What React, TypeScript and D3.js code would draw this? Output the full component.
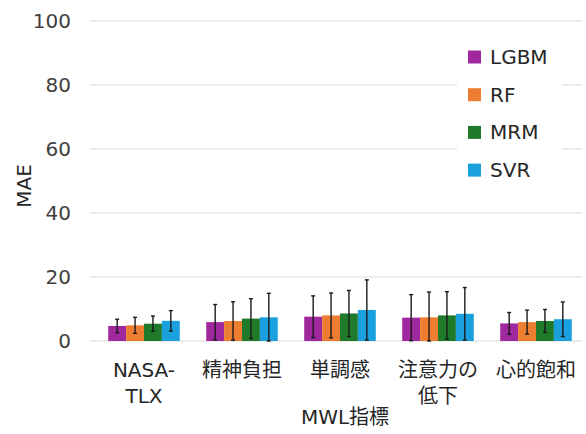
import React from 'react';
import * as d3 from 'd3';

// MWL indicator categories (x axis)
const categories = [['NASA-', 'TLX'], ['精神負担'], ['単調感'], ['注意力の', '低下'], ['心的飽和']];
const models = ['LGBM', 'RF', 'MRM', 'SVR'];
const colors = ['#A0289F', '#ED7D31', '#1F7A2C', '#1AA0DC'];

// MAE per model, one value per category
const lgbm = [4.7, 5.9, 7.6, 7.3, 5.5];
const rf = [4.9, 6.25, 8.0, 7.4, 5.9];
const mrm = [5.4, 7.0, 8.6, 8.0, 6.25];
const svr = [6.3, 7.4, 9.7, 8.5, 6.8];

// standard deviations (error bars)
const lgbmSd = [2.1, 5.5, 6.5, 7.2, 3.4];
const rfSd = [2.5, 6.0, 7.0, 7.9, 3.75];
const mrmSd = [2.4, 6.2, 7.2, 7.4, 3.6];
const svrSd = [3.2, 7.5, 9.4, 8.2, 5.4];

const yTicks = [0, 20, 40, 60, 80, 100];

const values = [lgbm, rf, mrm, svr];
const sds = [lgbmSd, rfSd, mrmSd, svrSd];

const FONT = '"DejaVu Sans", "Noto Sans CJK JP", sans-serif';

export default function App() {
	const width = 586;
	const height = 434;
	const left = 95;
	const right = 585;
	const top = 21;
	const bottom = 341;

	const x = d3.scaleBand<number>()
		.domain(d3.range(categories.length))
		.range([left, right])
		.paddingInner(0.27)
		.paddingOuter(0.135);
	const inner = d3.scaleBand<number>()
		.domain(d3.range(models.length))
		.range([0, x.bandwidth()]);
	const y = d3.scaleLinear().domain([0, 100]).range([bottom, top]);

	return (
		<svg
			width={width}
			height={height}
			style={{ position: 'absolute', left: 0, top: 0, background: '#fff' }}
			fontFamily={FONT}
		>
			{/* grid */}
			{yTicks.map((t) => (
				<g key={t}>
					<line x1={90} x2={582} y1={y(t)} y2={y(t)} stroke="#D9D9D9" strokeWidth={1} />
					<text x={71} y={y(t)} dy="0.35em" textAnchor="end" fontSize={20} fill="#404040">{t}</text>
				</g>
			))}

			{/* bars */}
			{values.map((series, m) => (
				<g key={models[m]}>
					{series.map((v, c) => {
						const bx = (x(c) as number) + (inner(m) as number);
						return (
							<rect
								key={c}
								x={bx}
								y={y(v)}
								width={inner.bandwidth()}
								height={y(0) - y(v)}
								fill={colors[m]}
							/>
						);
					})}
				</g>
			))}

			{/* error bars */}
			{values.map((series, m) => (
				<g key={`e${m}`} stroke="#1a1a1a" strokeWidth={1.4}>
					{series.map((v, c) => {
						const cx = (x(c) as number) + (inner(m) as number) + inner.bandwidth() / 2;
						const y1 = y(v + sds[m][c]);
						const y2 = y(Math.max(0, v - sds[m][c]));
						return (
							<g key={c}>
								<line x1={cx} x2={cx} y1={y1} y2={y2} />
								<line x1={cx - 2} x2={cx + 2} y1={y1} y2={y1} />
								<line x1={cx - 2} x2={cx + 2} y1={y2} y2={y2} />
							</g>
						);
					})}
				</g>
			))}

			{/* category labels */}
			{categories.map((lines, c) =>
				lines.map((s, i) => (
					<text
						key={`${c}-${i}`}
						x={(x(c) as number) + x.bandwidth() / 2}
						y={370 + i * 26}
						dy="0.35em"
						textAnchor="middle"
						fontSize={20}
						fill="#262626"
					>
						{s}
					</text>
				))
			)}

			{/* axis titles */}
			<text x={345} y={417} dy="0.35em" textAnchor="middle" fontSize={20} fill="#262626">MWL指標</text>
			<text
				transform={`translate(24,${(top + bottom) / 2 + 5}) rotate(-90)`}
				dy="0.35em"
				textAnchor="middle"
				fontSize={20}
				fill="#262626"
			>
				MAE
			</text>

			{/* legend */}
			<rect x={457} y={38} width={105} height={150} fill="#fff" />
			{models.map((name, i) => (
				<g key={name} transform={`translate(468,${57 + i * 37.7})`}>
					<rect x={0} y={-6.5} width={13} height={13} fill={colors[i]} />
					<text x={22} y={0} dy="0.35em" fontSize={20} fill="#262626">{name}</text>
				</g>
			))}
		</svg>
	);
}
